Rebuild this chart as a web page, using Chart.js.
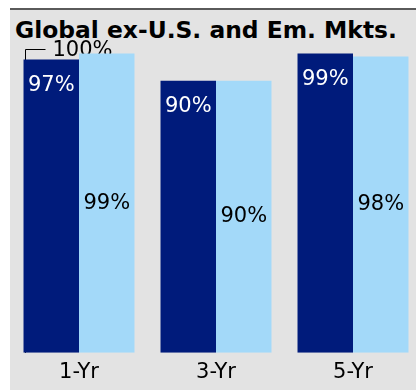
<!DOCTYPE html>
<html>
<head>
<meta charset="utf-8">
<script src="https://cdn.jsdelivr.net/npm/chart.js@4"></script>
<style>
  html, body { margin: 0; padding: 0; background: #ffffff; overflow: hidden; }
  body { width: 416px; height: 390px; position: relative; }
  #panel {
    position: absolute; left: 10px; top: 8px; width: 406px; height: 382px;
    background: #e3e3e3; border-top: 2px solid #5a5a5a; box-sizing: border-box;
  }
  #title {
    position: absolute; left: 15px; top: 19px; margin: 0;
    font: bold 23.4px "DejaVu Sans", Verdana, sans-serif; line-height: 23px;
    color: #000; white-space: nowrap;
  }
  #wrap { position: absolute; left: 0; top: 0; width: 432px; height: 392px; }
</style>
</head>
<body>
<div id="panel"></div>
<div id="title">Global ex-U.S. and Em. Mkts.</div>
<div id="wrap"><canvas id="chart" width="432" height="392"></canvas></div>
<script>
// Trailing-period capture ratios, in percent
const categories = ['1-Yr', '3-Yr', '5-Yr'];
const fundValues = [97, 90, 99];
const indexValues = [99, 90, 98];
const axisTicks = [100];
const axisTickLabels = ['100%'];

const FONT = '"DejaVu Sans", Verdana, sans-serif';
const DARK = '#001b7b';
const LIGHT = '#a3d9f9';

// Draws the top-of-axis bracket and its label behind the bars,
// then the percentage labels on top of the bars.
const barLabels = {
  id: 'barLabels',
  beforeDatasetsDraw(chart) {
    const { ctx, scales: { y } } = chart;
    const first = chart.getDatasetMeta(0).data[0];
    const left = Math.round(first.x - first.width / 2) + 0.5;
    const base = y.getPixelForValue(0);
    ctx.save();
    ctx.strokeStyle = '#000';
    ctx.lineWidth = 1;
    ctx.fillStyle = '#000';
    ctx.font = '21px ' + FONT;
    ctx.textBaseline = 'middle';
    ctx.textAlign = 'left';
    axisTicks.forEach((v, i) => {
      const ty = Math.round(y.getPixelForValue(v)) - 1.5;
      ctx.beginPath();
      ctx.moveTo(left + 21, ty);
      ctx.lineTo(left + 1, ty);
      ctx.lineTo(left + 1, base);
      ctx.stroke();
      ctx.fillText(axisTickLabels[i], left + 28, ty + 1);
    });
    ctx.restore();
  },
  afterDatasetsDraw(chart) {
    const { ctx } = chart;
    ctx.save();
    ctx.font = '21px ' + FONT;
    ctx.textAlign = 'center';
    ctx.textBaseline = 'middle';
    chart.getDatasetMeta(0).data.forEach((bar, i) => {
      ctx.fillStyle = '#ffffff';
      ctx.fillText(fundValues[i] + '%', bar.x, bar.y + 26);
    });
    chart.getDatasetMeta(1).data.forEach((bar, i) => {
      ctx.fillStyle = '#000000';
      ctx.fillText(indexValues[i] + '%', bar.x, (bar.y + bar.base) / 2);
    });
    ctx.restore();
  }
};

new Chart(document.getElementById('chart'), {
  type: 'bar',
  data: {
    labels: categories,
    datasets: [
      { label: 'Fund', data: fundValues, backgroundColor: DARK, borderWidth: 0 },
      { label: 'Index', data: indexValues, backgroundColor: LIGHT, borderWidth: 0 }
    ]
  },
  options: {
    responsive: false,
    animation: false,
    devicePixelRatio: 1,
    layout: { padding: { left: 10.5, right: 10.5, top: 50.5, bottom: 0 } },
    datasets: { bar: { categoryPercentage: 0.81, barPercentage: 1.0 } },
    plugins: { legend: { display: false }, tooltip: { enabled: false }, title: { display: false } },
    scales: {
      x: {
        grid: { display: false, drawTicks: false },
        border: { display: false },
        ticks: { color: '#000', padding: 7, font: { family: FONT, size: 21 } }
      },
      y: { display: false, min: 0, max: 100 }
    }
  },
  plugins: [barLabels]
});
</script>
</body>
</html>
